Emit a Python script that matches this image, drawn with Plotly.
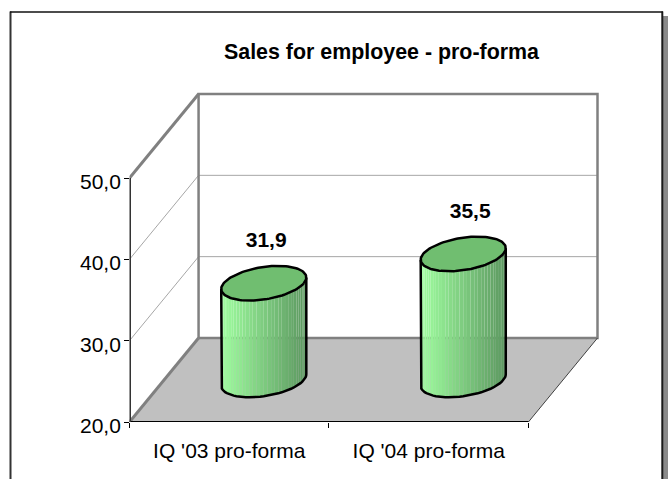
import numpy as np
import plotly.graph_objects as go

TITLE = "Sales for employee - pro-forma"
categories = ["IQ '03 pro-forma", "IQ '04 pro-forma"]
values = [31.9, 35.5]
value_labels = ["31,9", "35,5"]
y_ticks = [20, 30, 40, 50]
y_tick_labels = ["20,0", "30,0", "40,0", "50,0"]

# oblique 3-D projection, in axis units
PX_X = 199.25        # pixels per category
PX_Y = 8.13          # pixels per value unit
DX = 69 / PX_X       # depth shift along the category axis
DY = 84 / PX_Y       # depth shift along the value axis
BASE = 20
TOP = 50
RX, RD = 0.201, 0.206   # cylinder radii: category units, depth units
MID = 0.5
FONT = "Liberation Sans"
FS = 21
PAD = 4              # spare pixels above and right so wall strokes are not clipped


def proj(c, d, v):
    return c + d * DX, v + d * DY


fig = go.Figure()


def line(xs, ys, color, width):
    fig.add_trace(go.Scatter(x=xs, y=ys, mode="lines", hoverinfo="skip",
                             line=dict(color=color, width=width)))


def poly(xs, ys, color):
    fig.add_trace(go.Scatter(x=xs, y=ys, mode="lines", fill="toself", fillcolor=color,
                             hoverinfo="skip", line=dict(color=color, width=0)))


n = len(categories)
# floor
fx, fy = zip(*[proj(0, 0, BASE), proj(n, 0, BASE), proj(n, 1, BASE), proj(0, 1, BASE), proj(0, 0, BASE)])
poly(list(fx), list(fy), "#C0C0C0")

# gridlines
for v in y_ticks[1:-1]:
    a, b = proj(0, 0, v), proj(0, 1, v)
    c = proj(n, 1, v)
    line([a[0], b[0], c[0]], [a[1], b[1], c[1]], "#A6A6A6", 1)

# walls
WALL = "#808080"
wx, wy = zip(*[proj(0, 1, BASE), proj(0, 1, TOP), proj(n, 1, TOP), proj(n, 1, BASE), proj(0, 1, BASE)])
line(list(wx), list(wy), WALL, 2.5)
for v in (BASE, TOP):
    a, b = proj(0, 0, v), proj(0, 1, v)
    line([a[0], b[0]], [a[1], b[1]], WALL, 3)
a, b = proj(n, 0, BASE), proj(n, 1, BASE)
line([a[0], b[0]], [a[1], b[1]], "#404040", 1)

# axis lines (half of each stroke falls outside the subplot)
line([0, n], [BASE, BASE], "#000000", 2)
line([0, 0], [BASE, TOP], "#333333", 3)

# cylinders
t_right = np.arctan2(RD * DX, RX)
LIGHT = np.array([160, 255, 160])
DARK = np.array([92, 152, 96])


def ellipse(cx, v, ts):
    px = cx + RX * np.cos(ts) + (MID + RD * np.sin(ts)) * DX
    py = v + (MID + RD * np.sin(ts)) * DY
    return px, py


for i, v in enumerate(values):
    cx = i + 0.5
    ts = np.linspace(t_right + np.pi, t_right + 2 * np.pi, 37)
    bx, by = ellipse(cx, BASE, ts)
    tx, ty = ellipse(cx, v, ts)
    left, right = bx[0], bx[-1]
    for k in range(len(ts) - 1):
        f = ((bx[k] + bx[k + 1]) / 2 - left) / (right - left)
        col = LIGHT + (DARK - LIGHT) * f
        poly([bx[k], bx[k + 1], tx[k + 1], tx[k], bx[k]],
             [by[k], by[k + 1], ty[k + 1], ty[k], by[k]],
             "rgb(%d,%d,%d)" % tuple(col))
    # outline of the sides and base
    line([tx[0]] + list(bx) + [tx[-1]], [ty[0]] + list(by) + [ty[-1]], "#000000", 2.5)
    # top cap
    tc = np.linspace(0, 2 * np.pi, 121)
    ex, ey = ellipse(cx, v, tc)
    fig.add_trace(go.Scatter(x=ex, y=ey, mode="lines", fill="toself", fillcolor="#70BE70",
                             hoverinfo="skip", line=dict(color="#000000", width=2.5)))

# data labels
LABEL_SHIFT_X = [0.012, 0.035]
LABEL_SHIFT_V = 5.05
lx = [i + 0.5 + MID * DX + LABEL_SHIFT_X[i] for i in range(n)]
ly = [v + MID * DY + LABEL_SHIFT_V for v in values]
fig.add_trace(go.Scatter(x=lx, y=ly, mode="text", text=["<b>%s</b>" % s for s in value_labels], hoverinfo="skip",
                         textposition="middle center",
                         textfont=dict(family=FONT, size=FS, color="#000000")))

W, H = 668, 479
fig.update_layout(
    width=W, height=H, showlegend=False,
    paper_bgcolor="#FFFFFF", plot_bgcolor="rgba(0,0,0,0)",
    margin=dict(l=0, r=0, t=0, b=0),
    font=dict(family=FONT, size=FS, color="#000000"),
    title=dict(text="<b>%s</b>" % TITLE, x=381.5 / W, y=1 - 52 / H, xanchor="center", yanchor="middle",
               font=dict(family=FONT, size=21.4, color="#000000")),
    xaxis=dict(domain=[129.5 / W, (597.5 + PAD) / W], range=[0, n + DX + PAD / PX_X], showgrid=False,
               zeroline=False, automargin=False,
               showline=False, tickmode="array", tickvals=[i + 0.5 for i in range(n)], ticktext=categories,
               ticks="", ticklabelstandoff=14, tickfont=dict(family=FONT, size=FS, color="#000000"),
               minor=dict(tickmode="array", tickvals=list(range(n + 1)), ticks="outside", ticklen=5,
                          tickwidth=1, tickcolor="#000000", showgrid=False)),
    yaxis=dict(domain=[(H - 422) / H, (H - 94 + PAD) / H], range=[BASE, TOP + DY + PAD / PX_Y], showgrid=False,
               zeroline=False, automargin=False,
               showline=False, tickmode="array", tickvals=y_ticks, showticklabels=False,
               ticks="outside", ticklen=5, tickwidth=1, tickcolor="#000000"),
    annotations=[
        dict(x=0, y=v, xref="x", yref="y", text=s, showarrow=False, xanchor="right", yanchor="middle",
             xshift=-7, yshift=-3.5, font=dict(family=FONT, size=FS, color="#000000"))
        for v, s in zip(y_ticks, y_tick_labels)
    ],
    shapes=[
        dict(type="line", xref="paper", yref="paper", x0=665.5 / W, x1=665.5 / W, y0=0, y1=1 - 16 / H,
             line=dict(color="#8A8A8A", width=5), layer="below"),
        dict(type="line", xref="paper", yref="paper", x0=10.5 / W, x1=10.5 / W, y0=0, y1=1 - 11.5 / H,
             line=dict(color="#333333", width=2), layer="below"),
        dict(type="line", xref="paper", yref="paper", x0=662.3 / W, x1=662.3 / W, y0=0, y1=1 - 11.5 / H,
             line=dict(color="#1A1A1A", width=2), layer="below"),
        dict(type="line", xref="paper", yref="paper", x0=10 / W, x1=663 / W, y0=1 - 12 / H, y1=1 - 12 / H,
             line=dict(color="#111111", width=1.5), layer="below"),
    ],
)
fig.write_html("out.html", post_script="document.body.style.margin='0';",
               config=dict(displayModeBar=False))
